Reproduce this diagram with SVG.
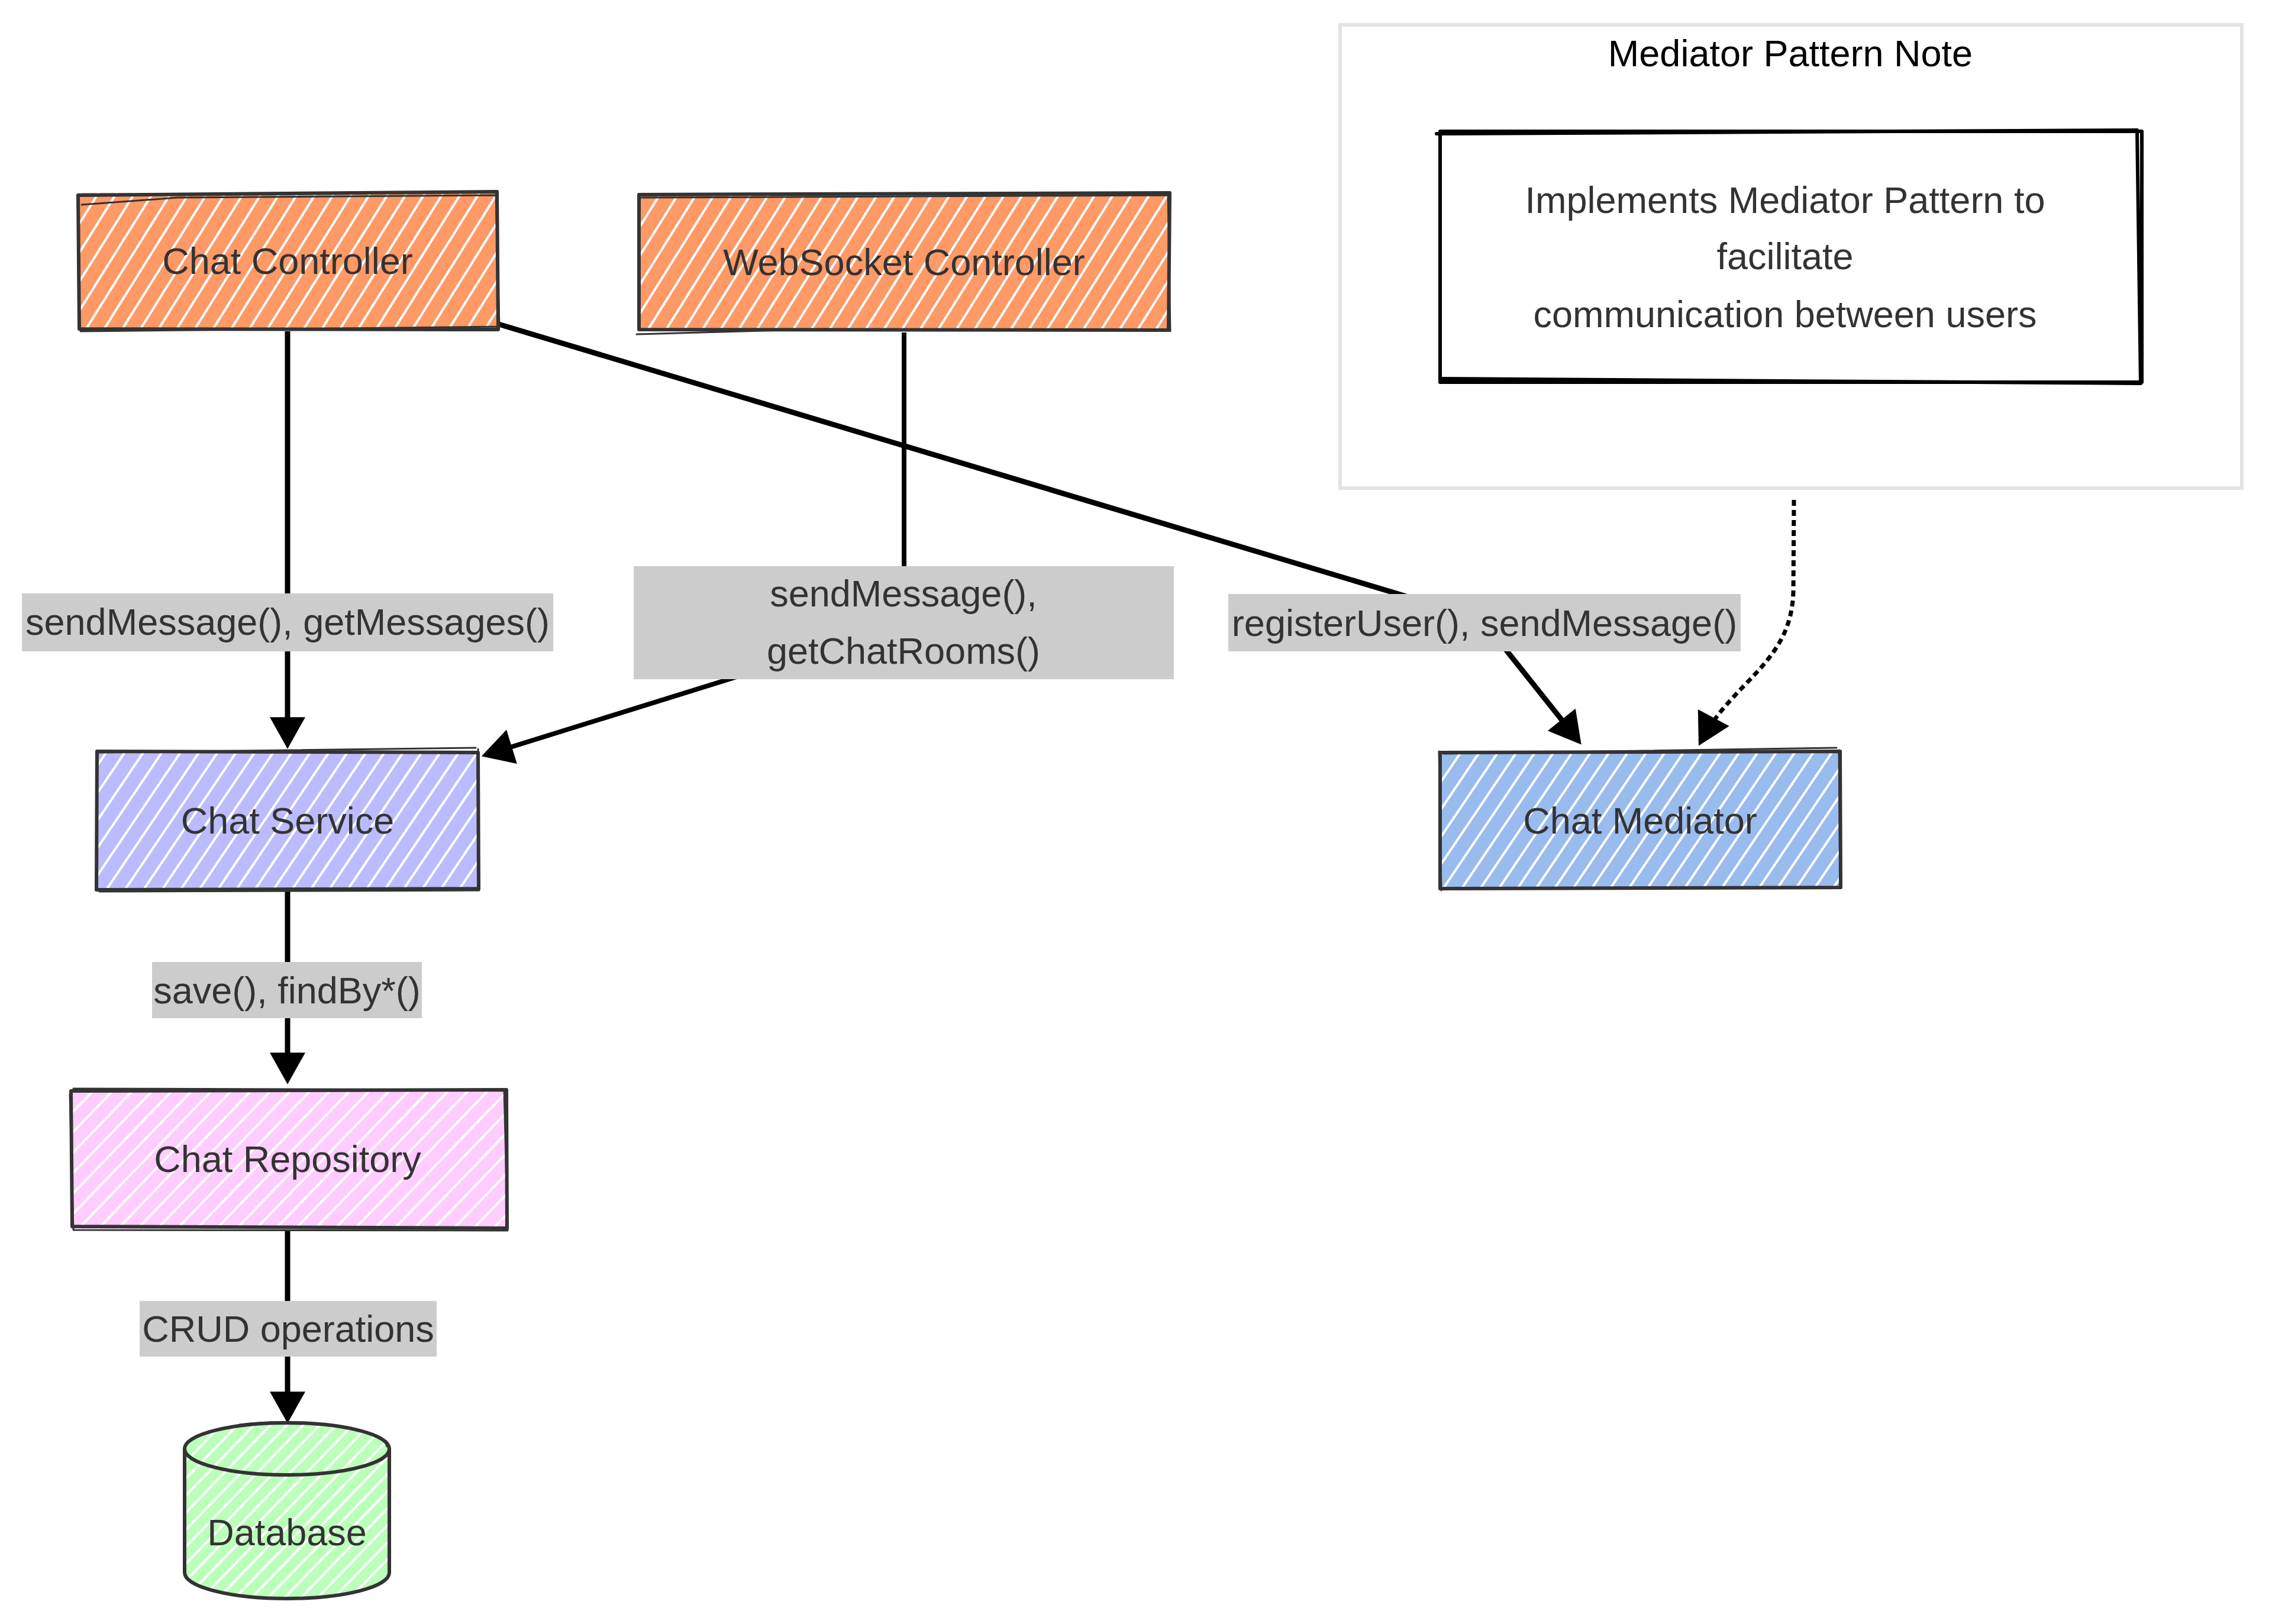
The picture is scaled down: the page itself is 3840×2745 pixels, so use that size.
<svg xmlns="http://www.w3.org/2000/svg" width="3840" height="2745" viewBox="0 0 3840 2745">
<style>
  .node-border { fill: none; stroke: #333333; stroke-width: 6; stroke-linejoin: round; stroke-linecap: round; }
  .node-text { font-family: "Liberation Sans", Arial, sans-serif; font-size: 63px; fill: #333333; text-anchor: middle; }
  .edge { fill: none; stroke: #000000; stroke-width: 9; }
  .edge-dotted { fill: none; stroke: #000000; stroke-width: 7; stroke-dasharray: 10 7; }
  .label-bg { fill: #cccccc; }
  .label-text { font-family: "Liberation Sans", Arial, sans-serif; font-size: 63px; fill: #333333; text-anchor: middle; }
  .cluster { fill: #ffffff; stroke: #e3e3e3; stroke-width: 6; }
  .cluster-title { font-family: "Liberation Sans", Arial, sans-serif; font-size: 63px; fill: #000000; text-anchor: middle; }
  .note-border { fill: #ffffff; stroke: #000000; stroke-width: 6; stroke-linejoin: round; }
</style>
<defs>
  <pattern id="hatch-orange" width="26" height="26" patternUnits="userSpaceOnUse" patternTransform="rotate(32)">
    <rect width="26" height="26" fill="#ff9966"/><line x1="2" y1="0" x2="2" y2="26" stroke="#ffffff" stroke-width="4"/>
  </pattern>
  <pattern id="hatch-lavender" width="26" height="26" patternUnits="userSpaceOnUse" patternTransform="rotate(34)">
    <rect width="26" height="26" fill="#bbbbff"/><line x1="2" y1="0" x2="2" y2="26" stroke="#ffffff" stroke-width="4"/>
  </pattern>
  <pattern id="hatch-blue" width="26" height="26" patternUnits="userSpaceOnUse" patternTransform="rotate(34)">
    <rect width="26" height="26" fill="#99bbee"/><line x1="2" y1="0" x2="2" y2="26" stroke="#ffffff" stroke-width="4"/>
  </pattern>
  <pattern id="hatch-pink" width="24" height="24" patternUnits="userSpaceOnUse" patternTransform="rotate(44)">
    <rect width="24" height="24" fill="#ffccff"/><line x1="2" y1="0" x2="2" y2="24" stroke="#ffffff" stroke-width="4"/>
  </pattern>
  <pattern id="hatch-green" width="20" height="20" patternUnits="userSpaceOnUse" patternTransform="rotate(44)">
    <rect width="20" height="20" fill="#bbffbb"/><line x1="2" y1="0" x2="2" y2="20" stroke="#ffffff" stroke-width="4"/>
  </pattern>
  <marker id="arrow" markerUnits="userSpaceOnUse" markerWidth="60" markerHeight="60" viewBox="0 0 50 56" refX="40" refY="28" orient="auto">
    <path d="M0,0 L50,28 L0,56 Z" fill="#000000"/>
  </marker>
</defs>

<rect x="0" y="0" width="3840" height="2745" fill="#ffffff"/>

<!-- Cluster: Mediator Pattern Note -->
<g id="cluster-mediator-note">
  <rect class="cluster" x="2265" y="42" width="1524" height="783"/>
  <text class="cluster-title" x="3026" y="112">Mediator Pattern Note</text>
</g>

<g id="note">
  <rect class="note-border" x="2434" y="222" width="1186" height="424"/>
  <path class="node-border" style="stroke:#000" d="M2428,226 L3612,220 L3618,648 L2436,640"/>
  <text class="node-text" x="3017" y="360">Implements Mediator Pattern to</text>
  <text class="node-text" x="3017" y="455">facilitate</text>
  <text class="node-text" x="3017" y="553">communication between users</text>
</g>

<!-- Connectors -->
<g id="connectors">
  <path id="e-cc-cs" class="edge" d="M486,560 L486,1255" marker-end="url(#arrow)"/>
  <path id="e-ws-cs" class="edge" style="stroke-width:8" d="M1528,562 L1528,1000 Q1528,1056 1470,1074 L824,1275" marker-end="url(#arrow)"/>
  <path id="e-cc-cm" class="edge" d="M843,548 L2420,1021 Q2504,1046 2525,1073 L2666,1250" marker-end="url(#arrow)"/>
  <path id="e-note-cm" class="edge-dotted" d="M3032,845 L3031,1000 C3028,1120 2930,1150 2876,1251" marker-end="url(#arrow)"/>
  <path id="e-cs-cr" class="edge" d="M486,1505 L486,1822" marker-end="url(#arrow)"/>
  <path id="e-cr-db" class="edge" d="M486,2080 L486,2395" marker-end="url(#arrow)"/>
</g>

<!-- Edge labels -->
<g id="edge-labels">
  <g id="label-cc-cs">
    <rect class="label-bg" x="37" y="1003" width="898" height="98"/>
    <text class="label-text" x="486" y="1073">sendMessage(), getMessages()</text>
  </g>
  <g id="label-ws-cs">
    <rect class="label-bg" x="1071" y="957" width="913" height="191"/>
    <text class="label-text" x="1527" y="1025">sendMessage(),</text>
    <text class="label-text" x="1527" y="1122">getChatRooms()</text>
  </g>
  <g id="label-cc-cm">
    <rect class="label-bg" x="2076" y="1004" width="866" height="97"/>
    <text class="label-text" x="2509" y="1075">registerUser(), sendMessage()</text>
  </g>
  <g id="label-cs-cr">
    <rect class="label-bg" x="257" y="1626" width="456" height="95"/>
    <text class="label-text" x="485" y="1696">save(), findBy*()</text>
  </g>
  <g id="label-cr-db">
    <rect class="label-bg" x="236" y="2199" width="502" height="94"/>
    <text class="label-text" x="487" y="2268">CRUD operations</text>
  </g>
</g>

<!-- Nodes -->
<g id="chat-controller">
  <rect x="132" y="326" width="708" height="230" fill="url(#hatch-orange)"/>
  <path class="node-border" d="M132,330 L840,324 L842,557 L134,556 Z"/>
  <path class="node-border" style="stroke-width:3" d="M138,346 L300,334 L838,330 L844,552 L136,560"/>
  <text class="node-text" x="486" y="463">Chat Controller</text>
</g>

<g id="websocket-controller">
  <rect x="1080" y="328" width="897" height="230" fill="url(#hatch-orange)"/>
  <path class="node-border" d="M1080,329 L1977,326 L1975,558 L1080,557 Z"/>
  <path class="node-border" style="stroke-width:3" d="M1082,334 L1974,330 L1978,560 M1076,565 L1400,556"/>
  <text class="node-text" x="1528" y="465">WebSocket Controller</text>
</g>

<g id="chat-service">
  <rect x="164" y="1271" width="644" height="231" fill="url(#hatch-lavender)"/>
  <path class="node-border" d="M164,1270 L808,1272 L809,1502 L163,1504 Z"/>
  <path class="node-border" style="stroke-width:3" d="M166,1272 L804,1264 M808,1266 L810,1505 L168,1507"/>
  <text class="node-text" x="486" y="1409">Chat Service</text>
</g>

<g id="chat-mediator">
  <rect x="2433" y="1272" width="677" height="228" fill="url(#hatch-blue)"/>
  <path class="node-border" d="M2434,1272 L3110,1270 L3111,1500 L2434,1502 Z"/>
  <path class="node-border" style="stroke-width:3" d="M2440,1274 L3104,1264 M3108,1268 L3110,1498 M2432,1270 L2436,1505"/>
  <text class="node-text" x="2772" y="1409">Chat Mediator</text>
</g>

<g id="chat-repository">
  <rect x="120" y="1842" width="738" height="235" fill="url(#hatch-pink)"/>
  <path class="node-border" d="M120,1844 L856,1842 L857,2076 L122,2073 Z"/>
  <path class="node-border" style="stroke-width:3" d="M124,1840 L852,1842 L858,2080 L124,2079 L118,1850"/>
  <text class="node-text" x="486" y="1981">Chat Repository</text>
</g>

<g id="database">
  <path d="M312,2449 L312,2658 A173,44 0 0 0 658,2658 L658,2449 A173,44 0 0 0 312,2449 Z" fill="url(#hatch-green)"/>
  <path class="node-border" d="M312,2449 L312,2658 A173,44 0 0 0 658,2658 L658,2449 A173,44 0 0 0 312,2449 Z"/>
  <path class="node-border" d="M312,2449 A173,44 0 0 0 658,2449"/>
  <path class="node-border" style="stroke-width:3" d="M405,2408 A173,44 0 0 1 654,2445"/>
  <text class="node-text" x="485" y="2612">Database</text>
</g>
</svg>
